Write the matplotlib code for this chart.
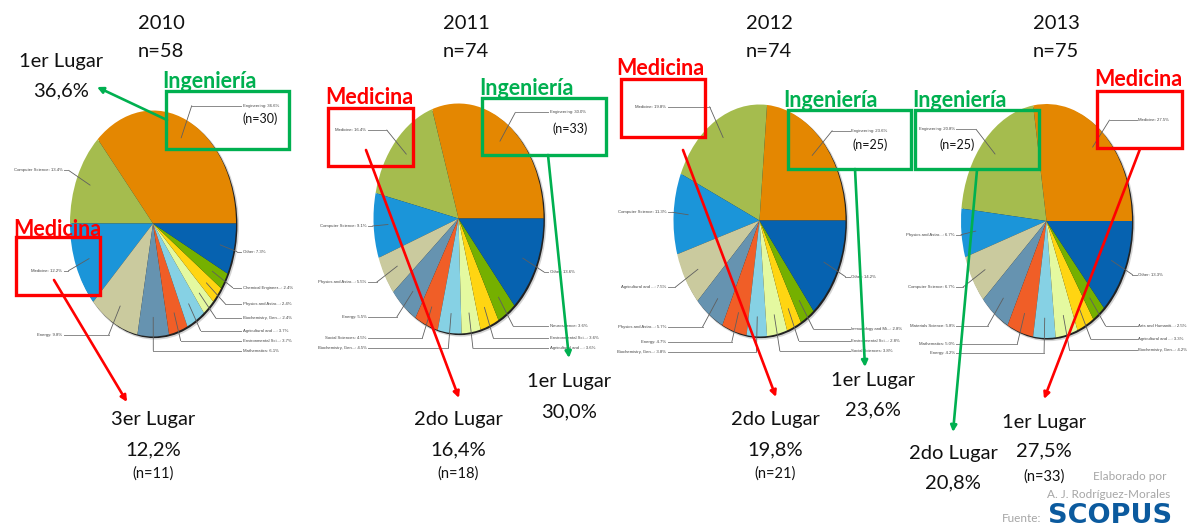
import numpy as np
import matplotlib
matplotlib.use('Agg')
import matplotlib.pyplot as plt
from matplotlib.patches import Ellipse, Rectangle

W, H = 1195, 527

# data
cats_2010 = ['Engineering', 'Computer Science', 'Medicine', 'Energy', 'Mathematics', 'Environmental Sci...',
             'Agricultural and ...', 'Biochemistry, Gen...', 'Physics and Astro...', 'Chemical Engineer...', 'Other']
vals_2010 = [36.6, 13.4, 12.2, 9.8, 6.1, 3.7, 3.7, 2.4, 2.4, 2.4, 7.3]
cats_2011 = ['Engineering', 'Medicine', 'Computer Science', 'Physics and Astro...', 'Energy', 'Social Sciences',
             'Biochemistry, Gen...', 'Agricultural and ...', 'Environmental Sci...', 'Neuroscience', 'Other']
vals_2011 = [30.0, 16.4, 9.1, 5.5, 5.5, 4.5, 4.5, 3.6, 3.6, 3.6, 13.6]
cats_2012 = ['Engineering', 'Medicine', 'Computer Science', 'Agricultural and ...', 'Physics and Astro...', 'Energy',
             'Biochemistry, Gen...', 'Social Sciences', 'Environmental Sci...', 'Immunology and Mi...', 'Other']
vals_2012 = [23.6, 19.8, 11.3, 7.5, 5.7, 4.7, 3.8, 3.8, 2.8, 2.8, 14.2]
cats_2013 = ['Medicine', 'Engineering', 'Physics and Astro...', 'Computer Science', 'Materials Science', 'Mathematics',
             'Energy', 'Biochemistry, Gen...', 'Agricultural and ...', 'Arts and Humaniti...', 'Other']
vals_2013 = [27.5, 20.8, 6.7, 6.7, 5.8, 5.0, 4.2, 4.2, 3.3, 2.5, 13.3]

colors = ['#E48701', '#A5BC4E', '#1B95D9', '#CACA9E', '#6693B0', '#F05E27',
          '#86D1E4', '#E4F9A0', '#FFD512', '#75B000', '#0662B0']

# layout, all in pixels of the picture: centre x, centre y, radius x, radius y, right text x, left text end x
pie_2010 = (153, 223.5, 83, 113, 243, 62.5)
pie_2011 = (458.5, 218.5, 85, 115, 550, 366.5)
pie_2012 = (759.5, 220.5, 86, 116, 851.5, 666.5)
pie_2013 = (1046.5, 221, 85.5, 117, 1138.5, 955)
# y of each slice label and which side it sits on, same order as the slices
label_y_2010 = [105.7, 170.3, 270.7, 335.3, 350.7, 340.7, 330.7, 318.3, 304, 287.7, 251.7]
label_y_2011 = [112.3, 130, 226, 282.3, 317, 338, 348.3, 348.3, 338, 326, 272]
label_y_2012 = [130.7, 106.7, 212.3, 287.3, 327, 341.7, 351.7, 351, 340.7, 329.3, 276.7]
label_y_2013 = [120, 129.3, 234.7, 287.3, 326, 343.7, 353.3, 350, 339.3, 326, 274.7]
side_2010 = 'RLLLRRRRRRR'
side_2011 = 'RLLLLLLRRRR'
side_2012 = 'RLLLLLLRRRR'
side_2013 = 'RLLLLLLRRRR'

fig = plt.figure(figsize=(W / 100, H / 100), dpi=100, facecolor='white')


def make_full(z):
    a = fig.add_axes([0, 0, 1, 1], zorder=z)
    a.set_xlim(0, W)
    a.set_ylim(H, 0)
    a.axis('off')
    return a


bg = make_full(0)
top = make_full(2)


def draw_pie(cats, vals, labels_y, sides, layout):
    cx, cy, rx, ry, right_x, left_x = layout
    # soft shadow, mostly seen on the lower right
    bg.add_patch(Ellipse((cx + 2.2, cy + 2.4), 2 * rx + 1.5, 2 * ry + 1.5, color='#aaaaaa', alpha=0.5, lw=0))
    bg.add_patch(Ellipse((cx + 1.4, cy + 1.6), 2 * rx, 2 * ry, color='#222222', lw=0))
    ax = fig.add_axes([(cx - rx) / W, 1 - (cy + ry) / H, 2 * rx / W, 2 * ry / H], zorder=1)
    wedges, _ = ax.pie(vals, colors=colors, startangle=0, counterclock=True, radius=1)
    ax.set_aspect('auto')
    ax.set_xlim(-1, 1)
    ax.set_ylim(-1, 1)
    for w, name, v, ly, side in zip(wedges, cats, vals, labels_y, sides):
        mid = np.deg2rad((w.theta1 + w.theta2) / 2)
        c, s = np.cos(mid), np.sin(mid)
        # leader line: inside the slice, out to the label row, then flat
        x0, y0 = cx + 0.83 * rx * c, cy - 0.83 * ry * s
        k = (cy - ly) / (ry * s) if abs(s) > 0.01 else 1.1
        ex = cx + k * rx * c
        if side == 'R':
            lx = right_x
            ex = max(min(ex, lx - 6), x0 - 3)
            ha, end = 'left', lx - 1.5
        else:
            lx = left_x
            ex = min(max(ex, lx + 6), x0 + 3)
            ha, end = 'right', lx + 1.5
        top.plot([x0, ex], [y0, ly], color='#5f5f5f', lw=0.6, zorder=1, solid_capstyle='round')
        top.plot([ex, end], [ly, ly], color='#8a8a8a', lw=0.7, zorder=1)
        top.text(lx, ly, '%s: %.1f%%' % (name, v), fontsize=3.1, color='#444444', ha=ha, va='center',
                 family='Liberation Sans', zorder=1)


draw_pie(cats_2010, vals_2010, label_y_2010, side_2010, pie_2010)
draw_pie(cats_2011, vals_2011, label_y_2011, side_2011, pie_2011)
draw_pie(cats_2012, vals_2012, label_y_2012, side_2012, pie_2012)
draw_pie(cats_2013, vals_2013, label_y_2013, side_2013, pie_2013)

GREEN = '#00B050'
RED = '#FF0000'
FONT = 'Lato'


def box(x0, y0, x1, y1, col):
    top.add_patch(Rectangle((x0, y0), x1 - x0, y1 - y0, fill=False, edgecolor=col, lw=2.4, zorder=3))


def arrow(p0, p1, col):
    top.annotate('', xy=p1, xytext=p0, zorder=4,
                 arrowprops=dict(arrowstyle='-|>', color=col, lw=1.9, mutation_scale=9, shrinkA=0, shrinkB=0))


def t(x, y, s, size=14.5, col='#111111', weight='normal'):
    top.text(x, y + 1.5, s, fontsize=size, color=col, fontweight=weight, family=FONT, ha='center', va='center', zorder=5)


# boxes
box(166, 91, 289, 149, GREEN)
box(16, 237, 100, 295, RED)
box(328, 108, 413, 166, RED)
box(482, 98, 606, 155, GREEN)
box(621, 79, 705, 136.5, RED)
box(788, 110, 911, 169, GREEN)
box(915, 110, 1039, 168.5, GREEN)
box(1097, 91, 1182, 148, RED)

# arrows
arrow((167, 120), (97, 87), GREEN)
arrow((54, 280), (127, 402), RED)
arrow((366, 150), (459, 398), RED)
arrow((548, 155), (569, 358), GREEN)
arrow((683, 150), (776, 397), RED)
arrow((855, 169), (865, 367), GREEN)
arrow((977, 170), (953, 432), GREEN)
arrow((1140, 149), (1044, 399), RED)

# titles
for x, yr, n in [(161, '2010', 'n=58'), (466, '2011', 'n=74'), (769, '2012', 'n=74'), (1056, '2013', 'n=75')]:
    t(x, 22, yr)
    t(x, 50, n)

# area names
for x, y in [(57, 228), (369, 96), (660, 67), (1138, 78)]:
    t(x, y, 'Medicina', 15.5, RED, 'bold')
for x, y in [(209, 80), (526, 87), (830, 99), (959, 99)]:
    t(x, y, 'Ingeniería', 15.5, GREEN, 'bold')

for x, y, s in [(260, 117, '(n=30)'), (570, 127, '(n=33)'), (870, 143, '(n=25)'), (957, 143, '(n=25)')]:
    t(x, y, s, 9)

# ranks
t(61, 60, '1er Lugar')
t(61, 89, '36,6%')
t(153, 418, '3er Lugar')
t(153, 448, '12,2%')
t(153, 472, '(n=11)', 10.5)
t(569, 380, '1er Lugar')
t(569, 410, '30,0%')
t(458, 418, '2do Lugar')
t(458, 448, '16,4%')
t(458, 472, '(n=18)', 10.5)
t(873, 379, '1er Lugar')
t(873, 408, '23,6%')
t(775, 418, '2do Lugar')
t(775, 448, '19,8%')
t(775, 472, '(n=21)', 10.5)
t(953, 452, '2do Lugar')
t(953, 481, '20,8%')
t(1044, 421, '1er Lugar')
t(1044, 449, '27,5%')
t(1044, 475, '(n=33)', 10.5)

# credits
t(1130, 475, 'Elaborado por', 8.5, '#A6A6A6')
t(1109, 493, 'A. J. Rodríguez-Morales', 8.5, '#A6A6A6')
t(1022, 517, 'Fuente:', 8.5, '#A6A6A6')
top.text(1110, 516, 'SCOPUS', fontsize=19.5, color='#0B5A9E', fontweight='bold', family='DejaVu Sans',
         ha='center', va='center', zorder=5)

fig.savefig('out.png', dpi=100)
